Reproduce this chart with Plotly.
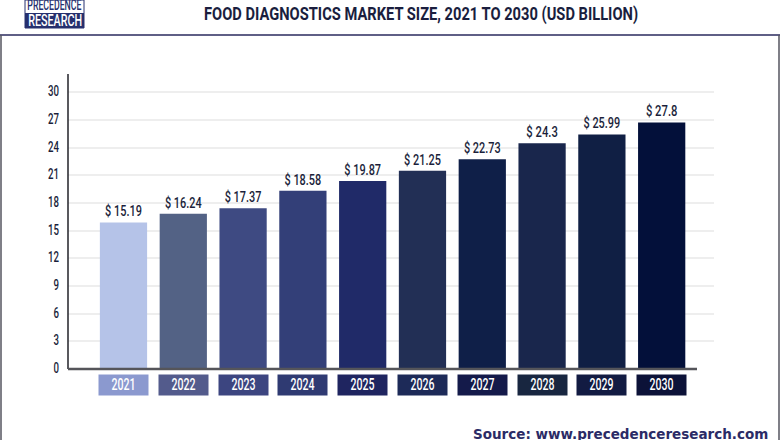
import plotly.graph_objects as go

# Graphique "Food Diagnostics Market Size" (Precedence Research)

years = ["2021", "2022", "2023", "2024", "2025", "2026", "2027", "2028", "2029", "2030"]
# les barres de l'image ne suivent pas exactement les montants affichés :
bar_heights = [15.9, 16.85, 17.45, 19.33, 20.4, 21.5, 22.75, 24.5, 25.45, 26.75]
bar_labels = ["$ 15.19", "$ 16.24", "$ 17.37", "$ 18.58", "$ 19.87",
              "$ 21.25", "$ 22.73", "$ 24.3", "$ 25.99", "$ 27.8"]
bar_colors = ["#b5c3e8", "#536285", "#3e4a82", "#333f78", "#202a68",
              "#222f55", "#0f1f48", "#19264c", "#101f44", "#03103a"]
box_colors = ["#8b99cf", "#535b8c", "#3c4580", "#2f3a72", "#1f2560",
              "#1d2a58", "#141a4a", "#182640", "#121b42", "#0c1238"]
y_ticks = [0, 3, 6, 9, 12, 15, 18, 21, 24, 27, 30]

TITLE = "FOOD DIAGNOSTICS MARKET SIZE, 2021 TO 2030 (USD BILLION)"
SOURCE = "Source: www.precedenceresearch.com"

FONT = "Roboto"
INK = "#1b1f3b"
W, H = 780, 440
L, R, T, B = 68, 66, 74, 71  # marges de la zone de tracé


# en plotly "paper" = zone de tracé, donc conversion depuis les pixels de l'image
def px(x):
    return (x - L) / (W - L - R)


def py(y):
    return 1 - (y - T) / (H - T - B)


def page_text(x, y, text, **font):
    return dict(x=px(x), y=py(y), xref="paper", yref="paper", xanchor="center",
                yanchor="middle", showarrow=False, text=text, font=font)


fig = go.Figure()
fig.add_trace(go.Bar(
    x=years,
    y=bar_heights,
    width=0.79,
    marker=dict(color=bar_colors, line=dict(width=0)),
    text=bar_labels,
    textposition="outside",
    cliponaxis=False,
    textfont=dict(family=FONT, size=14, weight=500, color=INK),
    hoverinfo="skip",
))

# étiquettes des années dans leurs pavés colorés
# x = position de la catégorie : une chaîne "2021" serait lue comme un nombre hors de l'axe
annotations = [
    dict(x=i, y=0, xref="x", yref="y", yshift=-15.5, yanchor="middle", showarrow=False,
         text=year, width=47, height=17.5, bgcolor=color,
         font=dict(family=FONT, size=16, weight=500, color="white"))
    for i, (year, color) in enumerate(zip(years, box_colors))
]

# titre, source et logo
annotations += [
    page_text(421, 13.5, TITLE, family=FONT, size=18, weight=700, color="#1a1e3e"),
    page_text(620.5, 434, SOURCE, family="DejaVu Sans", size=13.5, weight=700, color="#2b2b66"),
    page_text(54.5, 5, "PRECEDENCE", family=FONT, size=14, weight=500, color="#26306e"),
    page_text(54.5, 20, "RESEARCH", family=FONT, size=16, weight=500, color="white"),
]


def paper_rect(x0, y0, x1, y1, **kw):
    return dict(type="rect", xref="paper", yref="paper", x0=px(x0), x1=px(x1),
                y0=py(y1), y1=py(y0), layer="below", **kw)


def paper_line(x0, y0, x1, y1, color, width):
    return dict(type="line", xref="paper", yref="paper", x0=px(x0), x1=px(x1),
                y0=py(y0), y1=py(y1), line=dict(color=color, width=width))


shapes = [
    paper_line(0, 35, 780, 35, "#2a2a5e", 1.5),   # ligne sous le titre
    paper_line(1, 35, 1, 440, "#55555f", 1.5),    # cadre gauche
    paper_line(779, 35, 779, 440, "#55555f", 1.5),  # cadre droit
    paper_line(68, 74, 68, 369, "#222228", 1.5),  # axe vertical
    paper_line(68, 369, 697, 369, "#55555a", 2.5),  # axe horizontal
    paper_rect(25, 0, 84, 28, fillcolor="white", line=dict(color="#26306e", width=1)),
    paper_rect(25, 13, 84, 28, fillcolor="#26306e", line=dict(width=0)),
]

fig.update_layout(
    width=W,
    height=H,
    margin=dict(l=L, r=R, t=T, b=B),
    paper_bgcolor="white",
    plot_bgcolor="white",
    showlegend=False,
    annotations=annotations,
    shapes=shapes,
    xaxis=dict(
        type="category",
        range=[-0.928, 9.875],
        showticklabels=False,
        showgrid=False,
        zeroline=False,
        fixedrange=True,
    ),
    yaxis=dict(
        range=[0, 32],
        tickvals=y_ticks,
        ticks="",
        ticklabelstandoff=8,
        ticklabelshift=-1,
        tickfont=dict(family=FONT, size=14, weight=500, color=INK),
        gridcolor="#eeeeee",
        gridwidth=1.5,
        zeroline=False,
        fixedrange=True,
    ),
)

# pas de police étroite installée : on resserre le texte à la largeur voulue
post_script = """
document.body.style.margin = '0';
function fit(t, w) {
  t.setAttribute('lengthAdjust', 'spacingAndGlyphs');
  t.setAttribute('textLength', w);
}
document.querySelectorAll('.bartext').forEach(t => fit(t, t.textContent.length * 5.25));
document.querySelectorAll('.ytick text').forEach(t => fit(t, t.getComputedTextLength() * 0.69));
document.querySelectorAll('.annotation-text').forEach(t => {
  var s = t.textContent;
  if (s.startsWith('FOOD')) fit(t, 434);
  else if (s === 'PRECEDENCE' || s === 'RESEARCH') fit(t, 54);
  else if (s.length === 4) fit(t, 24);
});
"""

fig.write_html("out.html", config=dict(displayModeBar=False), post_script=post_script)
